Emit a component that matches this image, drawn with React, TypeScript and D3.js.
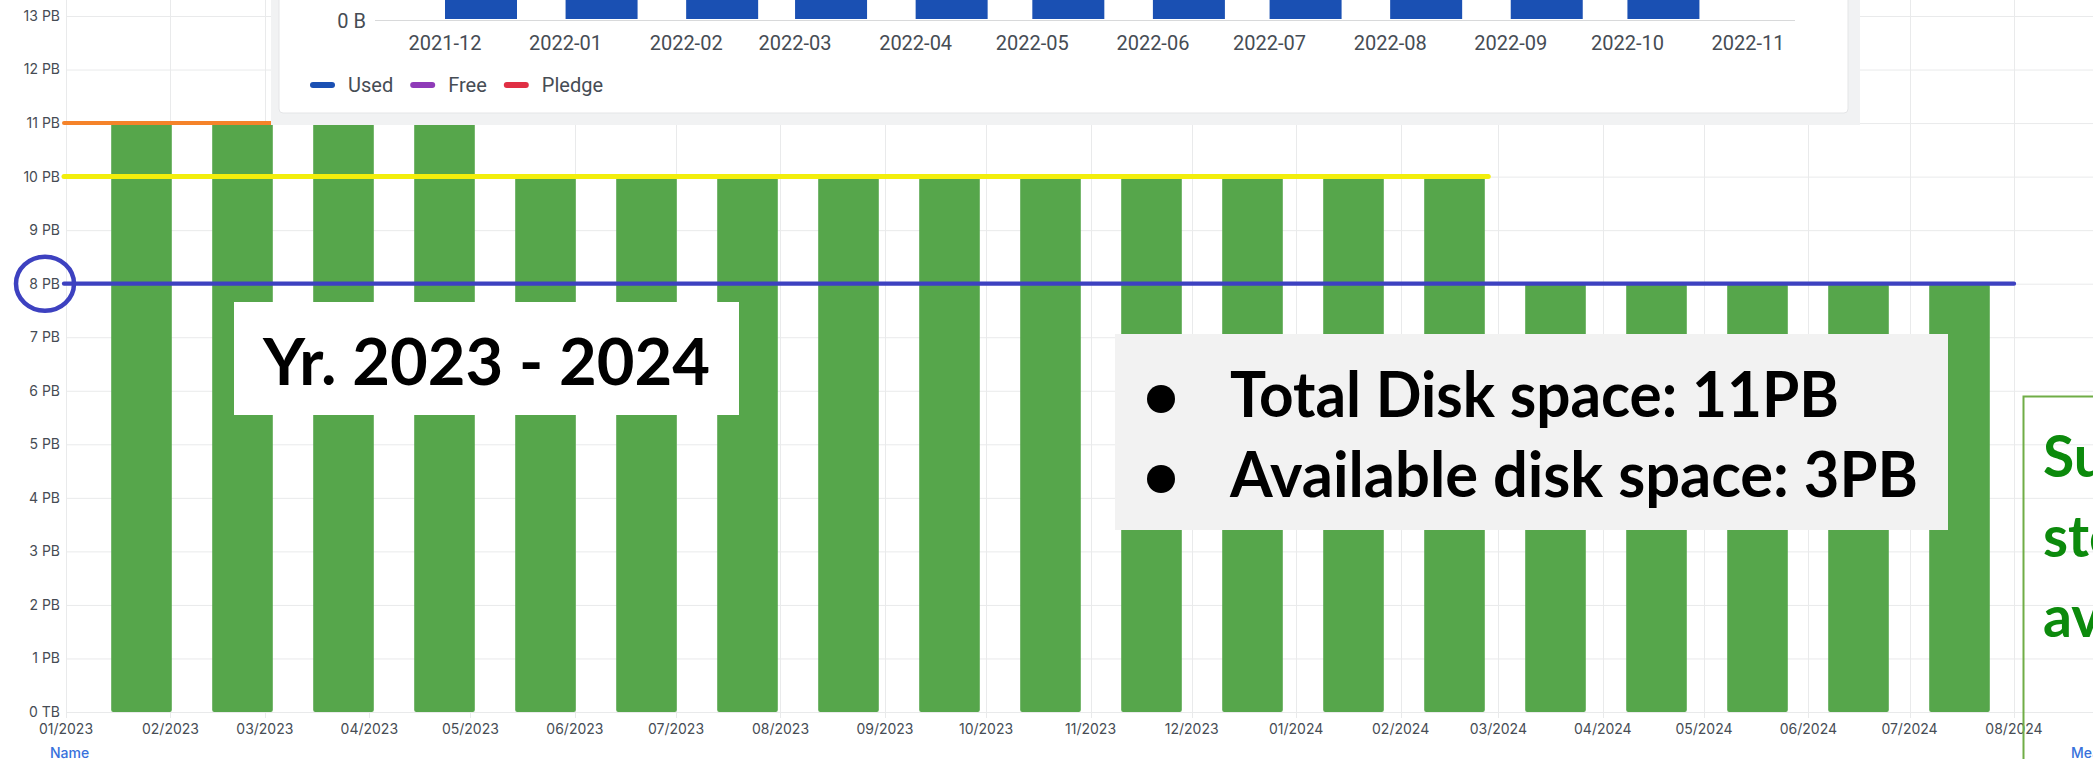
import React, { useEffect, useRef } from 'react';
import * as d3 from 'd3';

// main chart: one bar per month, disk space in PB
const months = [
  '2023-01', '2023-02', '2023-03', '2023-04', '2023-05', '2023-06', '2023-07',
  '2023-08', '2023-09', '2023-10', '2023-11', '2023-12', '2024-01', '2024-02',
  '2024-03', '2024-04', '2024-05', '2024-06', '2024-07',
];
const diskPB = [11, 11, 11, 11, 10, 10, 10, 10, 10, 10, 10, 10, 10, 10, 8, 8, 8, 8, 8];
const yTicks = [0, 1, 2, 3, 4, 5, 6, 7, 8, 9, 10, 11, 12, 13];

// hand-drawn level lines on top of the chart
const levelLines = [
  { value: 11, from: '2023-01-01', to: '2023-05-20', color: '#f5832a', width: 4 },
  { value: 10, from: '2023-01-01', to: '2024-02-27', color: '#f2ee0c', width: 5 },
  { value: 8, from: '2023-01-01', to: '2024-08-01', color: '#3d41c0', width: 4.3 },
];

// pasted inset (older chart), cropped at the top
const insetMonths = [
  '2021-12', '2022-01', '2022-02', '2022-03', '2022-04', '2022-05',
  '2022-06', '2022-07', '2022-08', '2022-09', '2022-10', '2022-11',
];
const insetUsedPB = [6.1, 6.3, 6.4, 6.6, 6.7, 6.9, 7.0, 7.2, 7.3, 7.5, 7.6];
const insetLegend = ['Used', 'Free', 'Pledge'];
const insetColors = ['#1a50b3', '#8f3bb8', '#e02f44'];

const yearText = 'Yr. 2023 - 2024';
const bulletLines = ['Total Disk space: 11PB', 'Available disk space: 3PB'];
const sideLines = ['Sufficient', 'storage', 'available'];

const parse = d3.utcParse('%Y-%m-%d');
const parseMonth = d3.utcParse('%Y-%m');

const App: React.FC = () => {
  const ref = useRef<SVGSVGElement>(null);

  useEffect(() => {
    document.body.style.margin = '0';
    const svg = d3.select(ref.current);
    svg.selectAll('*').remove();

    const width = 2093;
    const height = 759;
    const gridColor = '#e9eaeb';
    const textColor = '#464c54';

    svg.append('rect').attr('width', width).attr('height', height).attr('fill', '#fff');

    const y = d3.scaleLinear().domain([0, 13]).range([712, 16]);
    const x = d3.scaleUtc()
      .domain([Date.UTC(2023, 0, 1), Date.UTC(2024, 7, 1)])
      .range([66, 2014]);
    const xb = d3.scaleBand()
      .domain(months)
      .range([91, 2010])
      .paddingInner(0.4)
      .paddingOuter(0.2);

    // grid
    svg.append('g')
      .selectAll('line')
      .data(yTicks)
      .join('line')
      .attr('x1', 66).attr('x2', width)
      .attr('y1', d => y(d) + 0.5).attr('y2', d => y(d) + 0.5)
      .attr('stroke', gridColor);

    const xTicks = x.ticks(d3.utcMonth.every(1));
    svg.append('g')
      .selectAll('line')
      .data(xTicks)
      .join('line')
      .attr('x1', d => Math.round(x(d)) + 0.5).attr('x2', d => Math.round(x(d)) + 0.5)
      .attr('y1', 0).attr('y2', 718)
      .attr('stroke', gridColor);

    // bars
    svg.append('g')
      .selectAll('rect')
      .data(months)
      .join('rect')
      .attr('x', d => xb(d))
      .attr('width', xb.bandwidth())
      .attr('y', (d, i) => y(diskPB[i]))
      .attr('height', (d, i) => y(0) - y(diskPB[i]))
      .attr('rx', 2)
      .attr('fill', '#56a64b');

    // axis labels
    svg.append('g')
      .attr('font-family', 'Inter, sans-serif')
      .attr('font-size', 14)
      .attr('fill', textColor)
      .attr('text-anchor', 'end')
      .selectAll('text')
      .data(yTicks)
      .join('text')
      .attr('x', 60)
      .attr('y', d => y(d))
      .attr('dy', '0.35em')
      .text(d => (d === 0 ? '0 TB' : `${d} PB`));

    const fmtMonth = d3.utcFormat('%m/%Y');
    svg.append('g')
      .attr('font-family', 'Inter, sans-serif')
      .attr('font-size', 14)
      .attr('fill', textColor)
      .attr('text-anchor', 'middle')
      .selectAll('text')
      .data(xTicks)
      .join('text')
      .attr('x', d => x(d))
      .attr('y', 729)
      .attr('dy', '0.35em')
      .text(d => fmtMonth(d));

    svg.append('text')
      .attr('x', 50).attr('y', 753).attr('dy', '0.35em')
      .attr('font-family', 'Inter, sans-serif').attr('font-size', 14).attr('font-weight', 500)
      .attr('fill', '#3871dc')
      .text('Name');
    svg.append('text')
      .attr('x', 2071).attr('y', 753).attr('dy', '0.35em')
      .attr('font-family', 'Inter, sans-serif').attr('font-size', 14).attr('font-weight', 500)
      .attr('fill', '#3871dc')
      .text('Mean');

    // level lines + circle around 8 PB
    svg.append('g')
      .selectAll('line')
      .data(levelLines)
      .join('line')
      .attr('x1', d => x(parse(d.from)) - 2)
      .attr('x2', d => x(parse(d.to)))
      .attr('y1', d => y(d.value)).attr('y2', d => y(d.value))
      .attr('stroke', d => d.color)
      .attr('stroke-width', d => d.width)
      .attr('stroke-linecap', 'round');

    svg.append('ellipse')
      .attr('cx', 45).attr('cy', y(8))
      .attr('rx', 29).attr('ry', 27)
      .attr('fill', 'none')
      .attr('stroke', '#3d41c0')
      .attr('stroke-width', 4.5);

    //////////////////// INSET ////////////////////
    const inset = svg.append('g');
    inset.append('rect')
      .attr('x', 271).attr('y', -10).attr('width', 1589).attr('height', 135)
      .attr('fill', '#f1f2f3');
    inset.append('rect')
      .attr('x', 279).attr('y', -10).attr('width', 1569).attr('height', 123)
      .attr('rx', 4)
      .attr('fill', '#fff')
      .attr('stroke', '#e4e5e7');

    svg.append('clipPath').attr('id', 'inset-clip')
      .append('rect').attr('x', 280).attr('y', 0).attr('width', 1567).attr('height', 112);

    const xi = d3.scaleUtc()
      .domain([Date.UTC(2021, 11, 1), Date.UTC(2022, 10, 1)])
      .range([445, 1748]);
    const yi = d3.scaleLinear().domain([0, 8]).range([20, -140]);

    const ig = inset.append('g').attr('clip-path', 'url(#inset-clip)');
    ig.append('g')
      .selectAll('rect')
      .data(insetUsedPB)
      .join('rect')
      .attr('x', (d, i) => xi(parseMonth(insetMonths[i])))
      .attr('width', 72)
      .attr('y', d => yi(d))
      .attr('height', d => yi(0) - yi(d) - 1)
      .attr('fill', insetColors[0]);

    ig.append('line')
      .attr('x1', 375).attr('x2', 1795)
      .attr('y1', 20.5).attr('y2', 20.5)
      .attr('stroke', '#d8d9da');

    ig.append('text')
      .attr('x', 366).attr('y', 21).attr('dy', '0.35em')
      .attr('text-anchor', 'end')
      .attr('font-family', 'Roboto, sans-serif').attr('font-size', 20)
      .attr('fill', textColor)
      .text('0 B');

    ig.append('g')
      .attr('font-family', 'Roboto, sans-serif')
      .attr('font-size', 20)
      .attr('fill', textColor)
      .attr('text-anchor', 'middle')
      .selectAll('text')
      .data(insetMonths)
      .join('text')
      .attr('x', d => xi(parseMonth(d)))
      .attr('y', 43)
      .attr('dy', '0.35em')
      .text(d => d);

    // legend
    let lx = 310;
    insetLegend.forEach((name, i) => {
      ig.append('rect')
        .attr('x', lx).attr('y', 82).attr('width', 25).attr('height', 6).attr('rx', 3)
        .attr('fill', insetColors[i]);
      const t = ig.append('text')
        .attr('x', lx + 38).attr('y', 85).attr('dy', '0.35em')
        .attr('font-family', 'Roboto, sans-serif').attr('font-size', 20)
        .attr('fill', textColor)
        .text(name);
      const w = (t.node() as SVGTextElement).getComputedTextLength();
      lx = lx + 38 + w + 17;
    });

    //////////////////// ANNOTATIONS ////////////////////
    svg.append('rect')
      .attr('x', 234).attr('y', 302).attr('width', 505).attr('height', 113)
      .attr('fill', '#fff');
    svg.append('text')
      .attr('x', 263).attr('y', 385)
      .attr('font-family', 'Lato, sans-serif').attr('font-weight', 700).attr('font-size', 65)
      .attr('textLength', 447).attr('lengthAdjust', 'spacingAndGlyphs')
      .attr('fill', '#000')
      .text(yearText);

    svg.append('rect')
      .attr('x', 1115).attr('y', 334).attr('width', 833).attr('height', 196)
      .attr('fill', '#f2f2f2');
    const bulletWidths = [609, 688];
    bulletLines.forEach((line, i) => {
      const base = 417 + i * 80;
      svg.append('circle')
        .attr('cx', 1161).attr('cy', base - 18).attr('r', 14)
        .attr('fill', '#000');
      svg.append('text')
        .attr('x', 1230).attr('y', base)
        .attr('font-family', 'Lato, sans-serif').attr('font-weight', 700).attr('font-size', 63)
        .attr('textLength', bulletWidths[i]).attr('lengthAdjust', 'spacingAndGlyphs')
        .attr('fill', '#000')
        .text(line);
    });

    svg.append('rect')
      .attr('x', 2023.5).attr('y', 396.5).attr('width', 200).attr('height', 500)
      .attr('fill', 'none')
      .attr('stroke', '#70ad47')
      .attr('stroke-width', 2);
    sideLines.forEach((line, i) => {
      svg.append('text')
        .attr('x', 2043).attr('y', 477 + i * 80)
        .attr('font-family', 'Lato, sans-serif').attr('font-weight', 700).attr('font-size', 57)
        .attr('fill', '#0c8a0c')
        .text(line);
    });
  }, []);

  return <svg ref={ref} width={2093} height={759} style={{ display: 'block' }} />;
};

export default App;
